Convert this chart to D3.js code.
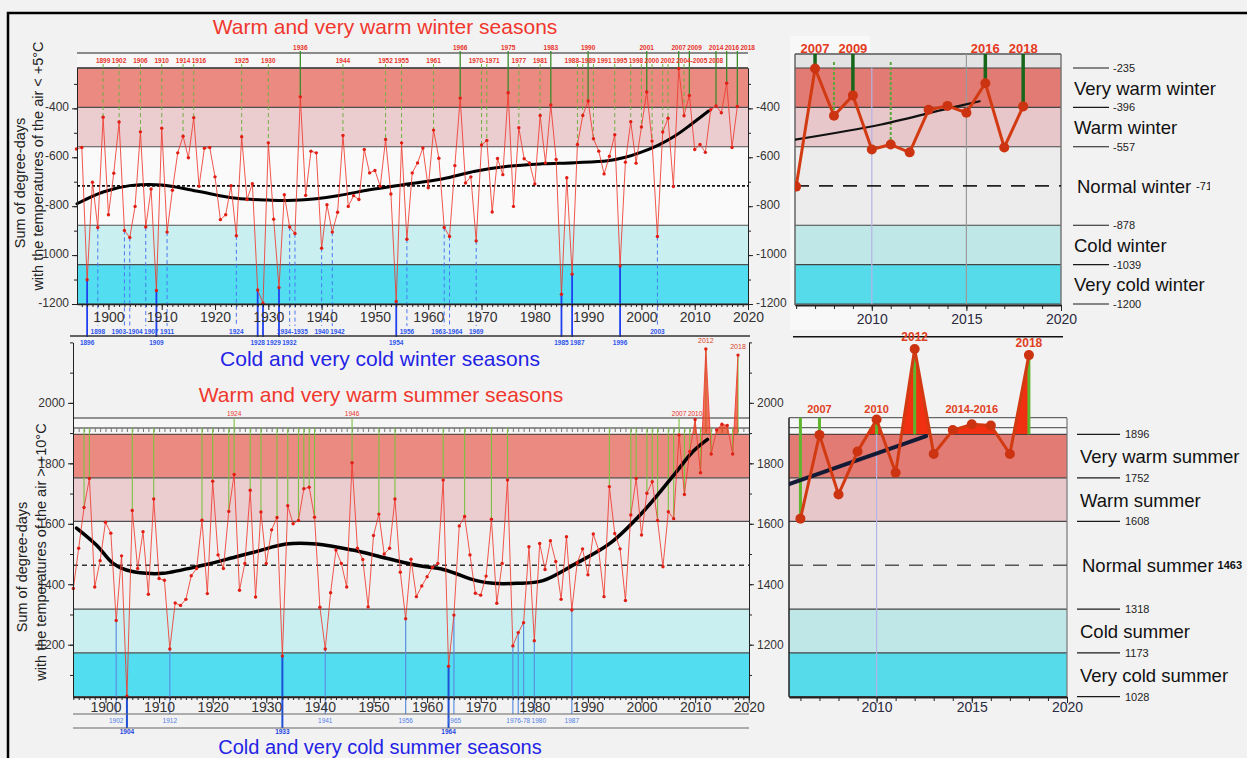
<!DOCTYPE html>
<html>
<head>
<meta charset="utf-8">
<script src="https://cdn.jsdelivr.net/npm/d3@7/dist/d3.min.js"></script>
<style>
  html, body { margin: 0; padding: 0; background: #f3f2f2; }
  svg { display: block; font-family: "Liberation Sans", Arial, sans-serif; }
</style>
</head>
<body>
<svg id="chart" width="1247" height="758"></svg>
<script>
// Seasonal sums of degree-days, one value per year starting in 1894
const firstYear = 1894;

// Winter: sum of degree-days with air temperature < +5°C
const winterValues = [
  -566, -560, -1101, -702, -887, -436, -835, -665, -456, -899,
  -928, -801, -496, -885, -730, -1145, -481, -906, -735, -582,
  -514, -602, -438, -719, -563, -560, -680, -855, -835, -716,
  -921, -516, -773, -708, -1143, -1197, -541, -853, -1133, -753,
  -885, -912, -353, -756, -575, -582, -972, -794, -906, -825,
  -511, -801, -757, -773, -568, -664, -654, -719, -527, -750,
  -1190, -541, -935, -664, -623, -562, -725, -489, -604, -887,
  -924, -634, -358, -705, -680, -942, -550, -531, -824, -605,
  -671, -336, -801, -479, -606, -623, -709, -429, -623, -386,
  -609, -1160, -684, -1078, -548, -429, -370, -524, -575, -668,
  -596, -508, -1045, -620, -455, -624, -476, -333, -534, -924,
  -497, -440, -720, -237, -430, -347, -568, -548, -580, -406,
  -390, -418, -297, -560, -392
];

// Summer: sum of degree-days with air temperature > +10°C
const summerValues = [
  1386, 1519, 1654, 1750, 1391, 1478, 1605, 1569, 1280, 1494,
  1030, 1644, 1452, 1574, 1367, 1682, 1419, 1413, 1186, 1338,
  1330, 1350, 1428, 1452, 1612, 1369, 1741, 1497, 1452, 1641,
  1763, 1380, 1469, 1711, 1358, 1639, 1469, 1580, 1621, 1163,
  1660, 1600, 1611, 1716, 1721, 1622, 1324, 1186, 1372, 1513,
  1469, 1391, 1802, 1519, 1482, 1325, 1561, 1632, 1500, 1519,
  1682, 1440, 1286, 1483, 1359, 1394, 1425, 1456, 1469, 1745,
  1129, 1298, 1593, 1624, 1497, 1370, 1364, 1427, 1615, 1337,
  1469, 1745, 1196, 1240, 1273, 1524, 1213, 1535, 1449, 1544,
  1475, 1350, 1557, 1315, 1471, 1517, 1431, 1566, 1513, 1359,
  1723, 1568, 1517, 1346, 1629, 1750, 1563, 1701, 1739, 1611,
  1458, 1640, 1617, 1894, 1697, 1839, 1945, 1769, 2178, 1831,
  1910, 1929, 1925, 1831, 2158
];

// Class boundaries (top to bottom) and normals
const winterLevels = [-235, -396, -557, -878, -1039, -1200];
const summerLevels = [1896, 1752, 1608, 1318, 1173, 1028];
const winterNormal = -717;
const summerNormal = 1463;
const winterClasses = ["Very warm winter", "Warm winter", "Normal winter", "Cold winter", "Very cold winter"];
const summerClasses = ["Very warm summer", "Warm summer", "Normal summer", "Cold summer", "Very cold summer"];

// Tick labels
const decadeTicks = [1900, 1910, 1920, 1930, 1940, 1950, 1960, 1970, 1980, 1990, 2000, 2010, 2020];
const insetTicks = [2010, 2015, 2020];
const winterAxisTicks = [-400, -600, -800, -1000, -1200];
const summerAxisTicks = [1200, 1400, 1600, 1800, 2000];

// Highlighted winter seasons
const winterVeryWarmLabels = ["1936", "1966", "1975", "1983", "1990", "2001", "2007", "2009", "2014", "2016", "2018"];
const winterWarmLabels = ["1899", "1902", "1906", "1910", "1914", "1916", "1925", "1930", "1944", "1952", "1955",
  "1961", "1970-1971", "1977", "1981", "1988-1989", "1991", "1995", "1998", "2000", "2002", "2004-2005", "2008"];
const winterColdLabels = ["1898", "1903-1904", "1907", "1911", "1924", "1934-1935", "1940", "1942", "1956",
  "1963-1964", "1969", "2003"];
const winterVeryColdLabels = ["1896", "1909", "1928", "1929", "1932", "1954", "1985", "1987", "1996"];

// Highlighted summer seasons
const summerTopLabels = ["1924", "1946", "2007", "2010"];
const summerPeakLabels = ["2012", "2018"];
const summerColdLabels = ["1902", "1912", "1941", "1956", "1965", "1976-78", "1980", "1987"];
const summerVeryColdLabels = ["1904", "1933", "1964"];

// Recent-years panels
const winterInsetSolid = [2007, 2009, 2016, 2018];
const winterInsetDashed = [2008, 2011];
const summerInsetMarks = [2006, 2007, 2010, 2012, 2018];
const summerInsetRowLabels = ["2007", "2010", "2014-2016"];
const summerInsetPeakLabels = ["2012", "2018"];

// Smoothed trends [year, degree-days]
const winterTrend = [[1894.1, -790], [1899, -742], [1904, -716], [1910, -713], [1916.5, -738], [1924, -768],
  [1930, -775], [1936, -775], [1943, -757], [1949, -733], [1955, -713], [1962.6, -689], [1968.8, -657],
  [1975, -637], [1981.3, -627], [1987.5, -622], [1993.7, -614], [1997, -600], [2000, -579], [2003, -552],
  [2006.2, -514], [2009.3, -466], [2012.6, -411]];
const summerTrend = [[1894.6, 1586], [1898.3, 1530], [1901.4, 1469], [1903.9, 1447], [1907.6, 1436],
  [1910.7, 1436], [1918.2, 1463], [1924.4, 1491], [1928.1, 1508], [1933.7, 1533], [1939.3, 1533],
  [1946.1, 1513], [1952.4, 1486], [1958.6, 1461], [1963, 1449], [1969.2, 1412], [1972.3, 1403],
  [1976.7, 1403], [1981.6, 1412], [1987.8, 1469], [1994.1, 1535], [2000.3, 1640], [2006.5, 1772],
  [2009.6, 1839], [2012.3, 1879]];
const winterInsetTrend = [[2005.94, -528], [2010.5, -466], [2014, -401], [2015.7, -371]];
const summerInsetTrend = [[2005.4, 1731], [2012.6, 1890]];

// ---------------------------------------------------------------------------
const svg = d3.select("#chart");
const years = winterValues.map((_, i) => firstYear + i);
const valueAt = (arr, yr) => arr[yr - firstYear];
const FONT = "Liberation Sans, Arial, sans-serif";
const plain = d => String(d);

const styles = {
  mainFillW: ["#ea8a80", "#ebcdd0", "#fafafa", "#c9eff1", "#52def0"],
  mainFillS: ["#ea8a80", "#ebcdd0", "#f2f1f1", "#c9eff1", "#52def0"],
  insetFill: ["#e27b74", "#e8c7ca", "#ececec", "#c0e7e7", "#56dbeb"],
  red: "#ee3a2e", redDot: "#e01e14", insetRed: "#d23a12",
  warmText: "#e8342a", coldText: "#2d55ee"
};

function yearsOf(label) {
  const [a, b] = label.split("-");
  const start = +a;
  if (b === undefined) return [start];
  const end = b.length === 2 ? Math.floor(start / 100) * 100 + +b : +b;
  return d3.range(start, end + 1);
}
const centerYear = label => d3.mean(yearsOf(label));

// a row of small year labels, nudged apart using their measured widths
function yearRow(g, labels, xScale, y, color, size = 6.5, weight = "bold") {
  const items = labels.map(l => ({ l, x: xScale(centerYear(l)) })).sort((a, b) => a.x - b.x);
  const sel = g.selectAll(null).data(items).join("text")
    .attr("x", d => d.x).attr("y", y)
    .attr("text-anchor", "middle").attr("dominant-baseline", "central")
    .attr("font-size", size).attr("font-weight", weight).attr("fill", color)
    .text(d => d.l);
  sel.each(function (d) { d.w = this.getBBox().width; });
  let right = -Infinity;
  items.forEach(d => {
    if (d.x - d.w / 2 < right) d.x = right + d.w / 2;
    right = d.x + d.w / 2 + 1;
  });
  sel.attr("x", d => d.x);
}

function bands(g, [x0, x1], y, levels, fills, lineColor = "#505050") {
  g.selectAll(null).data(fills).join("rect")
    .attr("x", x0).attr("width", x1 - x0)
    .attr("y", (d, i) => y(levels[i]))
    .attr("height", (d, i) => y(levels[i + 1]) - y(levels[i]))
    .attr("fill", d => d);
  g.selectAll(null).data(levels).join("line")
    .attr("x1", x0).attr("x2", x1)
    .attr("y1", d => y(d)).attr("y2", d => y(d))
    .attr("stroke", lineColor).attr("stroke-width", 1.2);
}

function vline(g, x, y1, y2, color, width, dash) {
  const l = g.append("line").attr("x1", x).attr("x2", x).attr("y1", y1).attr("y2", y2)
    .attr("stroke", color).attr("stroke-width", width);
  if (dash) l.attr("stroke-dasharray", dash);
  return l;
}

function hline(g, x1, x2, y, color, width, dash) {
  const l = g.append("line").attr("x1", x1).attr("x2", x2).attr("y1", y).attr("y2", y)
    .attr("stroke", color).attr("stroke-width", width);
  if (dash) l.attr("stroke-dasharray", dash);
  return l;
}

function styleAxis(g, size, color = "#333") {
  g.attr("font-size", size).attr("font-family", FONT);
  g.selectAll("text").attr("fill", color);
  g.selectAll("path, line").attr("stroke", "#222");
}

function seriesLine(g, xs, ys, yrs, arr, color, width, dotR, dotColor, opacity = 1) {
  const pts = yrs.map(yr => [yr, valueAt(arr, yr)]);
  g.append("path").datum(pts)
    .attr("d", d3.line().x(d => xs(d[0])).y(d => ys(d[1])))
    .attr("fill", "none").attr("stroke", color).attr("stroke-width", width)
    .attr("stroke-opacity", opacity).attr("stroke-linejoin", "round");
  g.selectAll(null).data(pts).join("circle")
    .attr("cx", d => xs(d[0])).attr("cy", d => ys(d[1])).attr("r", dotR)
    .attr("fill", dotColor);
}

function trendLine(g, xs, ys, knots, color, width) {
  g.append("path").datum(knots)
    .attr("d", d3.line().x(d => xs(d[0])).y(d => ys(d[1])).curve(d3.curveCatmullRom))
    .attr("fill", "none").attr("stroke", color).attr("stroke-width", width)
    .attr("stroke-linecap", "round");
}

const defs = svg.append("defs");

// ============================ WINTER, 1894–2018 ============================
const xW = d3.scaleLinear().domain([1894.1, 2020]).range([77, 748]);
const yW = d3.scaleLinear().domain([-1200, -235]).range([304, 68]);
const gW = svg.append("g");

gW.append("rect").attr("x", 77).attr("y", 53).attr("width", 671).attr("height", 15).attr("fill", "#f7f7f7");
bands(gW, xW.range(), yW, winterLevels, styles.mainFillW);
hline(gW, 77, 748, 53, "#8a8a8a", 2);
hline(gW, 77, 748, yW(winterLevels[0]), "#444", 1.6);
hline(gW, 77, 748, yW(winterNormal), "#111", 1.6, "3,2");

// connectors from highlighted seasons to their labels
winterVeryWarmLabels.forEach(l => yearsOf(l).forEach(yr =>
  vline(gW, xW(yr), 51, yW(valueAt(winterValues, yr)), "#3d8b2a", 1.3)));
winterWarmLabels.forEach(l => yearsOf(l).forEach(yr =>
  vline(gW, xW(yr), 64, yW(valueAt(winterValues, yr)), "#72b043", 1, "4,3")));
winterColdLabels.forEach(l => yearsOf(l).forEach(yr =>
  vline(gW, xW(yr), yW(valueAt(winterValues, yr)), 326, "#4a78f2", 1, "4,3")));
winterVeryColdLabels.forEach(l => yearsOf(l).forEach(yr =>
  vline(gW, xW(yr), yW(valueAt(winterValues, yr)), 337, "#1f3ff0", 1.8)));

trendLine(gW, xW, yW, winterTrend, "#000", 3);
seriesLine(gW, xW, yW, years, winterValues, styles.red, 1, 1.7, styles.redDot, 0.85);

// axes
gW.append("g").attr("transform", "translate(0,304)")
  .call(d3.axisBottom(xW).tickValues(d3.range(1895, 2021)).tickSize(3).tickFormat(() => "").tickSizeOuter(0))
  .call(g => styleAxis(g, 14));
gW.append("g").attr("transform", "translate(0,304)")
  .call(d3.axisBottom(xW).tickValues(decadeTicks).tickSize(6).tickFormat(plain).tickSizeOuter(0))
  .call(g => styleAxis(g, 14))
  .call(g => g.select(".domain").attr("stroke-width", 1.6))
  .call(g => g.selectAll("text").attr("dy", "0.62em"));
[[77, d3.axisLeft], [748, d3.axisRight]].forEach(([x, ax]) => {
  gW.append("g").attr("transform", `translate(${x},0)`)
    .call(ax(yW).tickValues(d3.range(-300, -1201, -100)).tickSize(3).tickFormat(() => "").tickSizeOuter(0))
    .call(g => styleAxis(g, 12));
  gW.append("g").attr("transform", `translate(${x},0)`)
    .call(ax(yW).tickValues(winterAxisTicks).tickSize(5).tickFormat(plain).tickSizeOuter(0))
    .call(g => styleAxis(g, 12))
    .call(g => g.selectAll("text").attr("dy", "0.2em"));
});

hline(gW, 70, 750, 336, "#333", 1.5);
yearRow(gW, winterVeryWarmLabels, xW, 47, styles.warmText);
yearRow(gW, winterWarmLabels, xW, 60, styles.warmText);
yearRow(gW, winterColdLabels, xW, 331.5, styles.coldText);
yearRow(gW, winterVeryColdLabels, xW, 342.5, styles.coldText);

gW.append("text").attr("x", 385).attr("y", 34).attr("text-anchor", "middle")
  .attr("font-size", 21).attr("fill", "#f0372d").text("Warm and very warm winter seasons");
gW.append("text").attr("x", 380).attr("y", 366).attr("text-anchor", "middle")
  .attr("font-size", 21).attr("fill", "#2323e6").text("Cold and very cold winter seasons");

gW.append("text").attr("transform", "translate(25,183) rotate(-90)").attr("text-anchor", "middle")
  .attr("font-size", 14.5).attr("fill", "#222").text("Sum of degree-days");
gW.append("text").attr("transform", "translate(43,166) rotate(-90)").attr("text-anchor", "middle")
  .attr("font-size", 14.5).attr("fill", "#222").text("with the temperatures of the air < +5°C");

// ============================ SUMMER, 1894–2018 ============================
const xS = d3.scaleLinear().domain([1893.94, 2020.05]).range([73, 749]);
const yS = d3.scaleLinear().domain([1028, 1896]).range([696.7, 434.3]);
const yAxisS = d3.scaleLinear().domain([1028, 2200]).range([yS(1028), yS(2200)]);
const gS = svg.append("g");

gS.append("rect").attr("x", 73).attr("y", 418).attr("width", 676).attr("height", 16).attr("fill", "#f6f6f6");
bands(gS, xS.range(), yS, summerLevels, styles.mainFillS);
hline(gS, 73, 749, 418, "#6f6f6f", 1.5);
hline(gS, 73, 749, 428, "#6f6f6f", 1.5);
gS.append("g").attr("transform", "translate(0,428)")
  .call(d3.axisBottom(xS).tickValues(d3.range(1894, 2021)).tickSize(4).tickFormat(() => "").tickSizeOuter(0))
  .call(g => { g.select(".domain").remove(); g.selectAll("line").attr("stroke", "#777"); });
hline(gS, 73, 749, yS(summerNormal), "#333", 1.5, "5,4");

// warm seasons: green stems; cold seasons: blue stems down to labels
years.forEach(yr => {
  const v = valueAt(summerValues, yr);
  if (v > summerLevels[2]) {
    const top = v > summerLevels[0] ? yS(summerLevels[0])
      : (summerTopLabels.includes(String(yr)) ? 418 : 428);
    vline(gS, xS(yr), top, yS(v), "#7cc142", 1.1);
  }
});
summerColdLabels.forEach(l => yearsOf(l).forEach(yr =>
  vline(gS, xS(yr), yS(valueAt(summerValues, yr)), 714, "#5b8fe0", 1.2)));
summerVeryColdLabels.forEach(l => yearsOf(l).forEach(yr =>
  vline(gS, xS(yr), yS(valueAt(summerValues, yr)), 728, "#1e4fd6", 2)));

// fill where the season exceeds the very-warm boundary
defs.append("clipPath").attr("id", "aboveS").append("rect")
  .attr("x", 60).attr("y", 300).attr("width", 700).attr("height", yS(summerLevels[0]) - 300);
gS.append("path").datum(years)
  .attr("clip-path", "url(#aboveS)")
  .attr("d", d3.area().x(yr => xS(yr)).y0(yS(summerLevels[0])).y1(yr => yS(valueAt(summerValues, yr))))
  .attr("fill", "#f0391c").attr("fill-opacity", 0.7);

trendLine(gS, xS, yS, summerTrend, "#000", 3.5);
seriesLine(gS, xS, yS, years, summerValues, styles.red, 1, 1.7, styles.redDot, 0.85);

gS.append("g").attr("transform", "translate(0,697)")
  .call(d3.axisBottom(xS).tickValues(d3.range(1894, 2021)).tickSize(3).tickFormat(() => "").tickSizeOuter(0))
  .call(g => styleAxis(g, 14));
gS.append("g").attr("transform", "translate(0,697)")
  .call(d3.axisBottom(xS).tickValues(decadeTicks).tickSize(6).tickFormat(plain).tickSizeOuter(0))
  .call(g => styleAxis(g, 14))
  .call(g => g.select(".domain").attr("stroke-width", 1.6))
  .call(g => g.selectAll("text").attr("dy", "0.45em"));
[[73, d3.axisLeft], [749, d3.axisRight]].forEach(([x, ax]) => {
  gS.append("g").attr("transform", `translate(${x},0)`)
    .call(ax(yAxisS).tickValues(d3.range(1100, 2201, 100)).tickSize(3).tickFormat(() => "").tickSizeOuter(0))
    .call(g => styleAxis(g, 12));
  gS.append("g").attr("transform", `translate(${x},0)`)
    .call(ax(yAxisS).tickValues(summerAxisTicks).tickSize(5).tickFormat(plain).tickSizeOuter(0))
    .call(g => styleAxis(g, 12));
});

hline(gS, 73, 749, 714, "#666", 1.2);
hline(gS, 73, 749, 728, "#666", 1.2);
yearRow(gS, summerTopLabels, xS, 413, styles.warmText, 6.5, "normal");
summerPeakLabels.forEach(l => {
  const yr = +l;
  gS.append("text").attr("x", xS(yr)).attr("y", yS(valueAt(summerValues, yr)) - 6)
    .attr("text-anchor", "middle").attr("font-size", 7).attr("fill", "#d9462a").text(l);
});
yearRow(gS, summerColdLabels, xS, 720.5, "#4f80e6", 6.5, "normal");
yearRow(gS, summerVeryColdLabels, xS, 731.5, "#1f45e0");

gS.append("text").attr("x", 381).attr("y", 402).attr("text-anchor", "middle")
  .attr("font-size", 21).attr("fill", "#f0372d").text("Warm and very warm summer seasons");
gS.append("text").attr("x", 380).attr("y", 753.5).attr("text-anchor", "middle")
  .attr("font-size", 20).attr("fill", "#2323e6").text("Cold and very cold summer seasons");

gS.append("text").attr("transform", "translate(27,567) rotate(-90)").attr("text-anchor", "middle")
  .attr("font-size", 14.5).attr("fill", "#222").text("Sum of degree-days");
gS.append("text").attr("transform", "translate(46,552) rotate(-90)").attr("text-anchor", "middle")
  .attr("font-size", 14.5).attr("fill", "#222").text("with the temperatures of the air > +10°C");

// ============================ RECENT WINTERS ============================
const xWI = d3.scaleLinear().domain([2005.94, 2020]).range([795, 1061]);
const gWI = svg.append("g");
const insetYears = d3.range(2006, 2019);

gWI.append("rect").attr("x", 790).attr("y", 36).attr("width", 80).attr("height", 294).attr("fill", "#f8f8f8");
gWI.append("rect").attr("x", 795).attr("y", 54).attr("width", 266).attr("height", 14).attr("fill", "#e3e3e3");
bands(gWI, xWI.range(), yW, winterLevels, styles.insetFill, "#444");
hline(gWI, 795, 1061, 54, "#7a7a7a", 2);
vline(gWI, xWI(2010), 68, 305, "#b4b4e6", 1.2);
vline(gWI, xWI(2015), 54, 305, "#9a9a9a", 1.2);
vline(gWI, 795, 54, 305, "#666", 1.5);
vline(gWI, 1061, 54, 305, "#777", 1.5);
hline(gWI, 795, 1061, yW(winterNormal), "#222", 1.6, "14,10");

winterInsetSolid.forEach(yr => vline(gWI, xWI(yr), 54, yW(valueAt(winterValues, yr)), "#17661a", 3.5));
winterInsetDashed.forEach(yr => vline(gWI, xWI(yr), 62, yW(valueAt(winterValues, yr)), "#5aa83a", 2, "3,2"));

defs.append("clipPath").attr("id", "clipWI").append("rect")
  .attr("x", 795).attr("y", 40).attr("width", 266).attr("height", 270);
const gWIc = gWI.append("g").attr("clip-path", "url(#clipWI)");
trendLine(gWIc, xWI, yW, winterInsetTrend, "#111", 2.2);
seriesLine(gWIc, xWI, yW, insetYears, winterValues, styles.insetRed, 3, 5, "#cc3311");

winterInsetSolid.forEach(yr => gWI.append("text").attr("x", xWI(yr)).attr("y", 53)
  .attr("text-anchor", "middle").attr("font-size", 13).attr("font-weight", "bold")
  .attr("fill", "#e43a22").text(yr));

gWI.append("g").attr("transform", "translate(0,305)")
  .call(d3.axisBottom(xWI).tickValues(d3.range(2006, 2021)).tickSize(4).tickFormat(() => "").tickSizeOuter(0))
  .call(g => styleAxis(g, 14));
gWI.append("g").attr("transform", "translate(0,305)")
  .call(d3.axisBottom(xWI).tickValues(insetTicks).tickSize(6).tickFormat(plain).tickSizeOuter(0))
  .call(g => styleAxis(g, 14, "#2a2a40"))
  .call(g => g.select(".domain").attr("stroke-width", 2));

// class scale on the right
winterLevels.forEach(lv => {
  hline(gWI, 1073, 1109, yW(lv), "#1a1a1a", 1.2);
  gWI.append("text").attr("x", 1113).attr("y", yW(lv)).attr("dominant-baseline", "central")
    .attr("font-size", 11).attr("fill", "#222").text(lv);
});
defs.append("clipPath").attr("id", "clipWL").append("rect")
  .attr("x", 1060).attr("y", 60).attr("width", 150).attr("height", 260);
winterClasses.forEach((name, i) => {
  const mid = (yW(winterLevels[i]) + yW(winterLevels[i + 1])) / 2;
  const t = gWI.append("text").attr("x", i === 2 ? 1077 : 1074).attr("y", mid)
    .attr("dominant-baseline", "central").attr("font-size", 18.5).attr("fill", "#111");
  t.append("tspan").text(name);
  if (i === 2) {
    t.attr("clip-path", "url(#clipWL)");
    t.append("tspan").attr("dx", 5).attr("font-size", 11).text(winterNormal);
  }
});

// ============================ RECENT SUMMERS ============================
const xSI = d3.scaleLinear().domain([2005.4, 2020]).range([789, 1067]);
const gSI = svg.append("g");

hline(gSI, 793, 1063, 336.7, "#111", 1.5);
gSI.append("rect").attr("x", 789).attr("y", 417.7).attr("width", 278).attr("height", 16.6).attr("fill", "#f6f6f6");
bands(gSI, xSI.range(), yS, summerLevels, styles.insetFill, "#444");
hline(gSI, 789, 1067, 417.7, "#666", 1.2);
hline(gSI, 789, 1067, 427.7, "#666", 1.2);
vline(gSI, xSI(2010), 417.7, 696.7, "#b4b4e6", 1.2);
vline(gSI, 789, 417.7, 696.7, "#222", 1.5);
vline(gSI, 1067, 417.7, 696.7, "#777", 1.2);
hline(gSI, 789, 1067, yS(summerNormal), "#555", 1.5, "14,10");

defs.append("clipPath").attr("id", "aboveSI").append("rect")
  .attr("x", 789).attr("y", 330).attr("width", 278).attr("height", yS(summerLevels[0]) - 330);
gSI.append("path").datum(insetYears)
  .attr("clip-path", "url(#aboveSI)")
  .attr("d", d3.area().x(yr => xSI(yr)).y0(yS(summerLevels[0])).y1(yr => yS(valueAt(summerValues, yr))))
  .attr("fill", "#f03010");

summerInsetMarks.forEach(yr => {
  const v = valueAt(summerValues, yr);
  const top = v > summerLevels[0] ? yS(summerLevels[0]) : 417.7;
  vline(gSI, xSI(yr), top, yS(v), "#5fb52e", 3);
});

defs.append("clipPath").attr("id", "clipSI").append("rect")
  .attr("x", 789).attr("y", 330).attr("width", 278).attr("height", 370);
const gSIc = gSI.append("g").attr("clip-path", "url(#clipSI)");
trendLine(gSIc, xSI, yS, summerInsetTrend, "#121a35", 4);
seriesLine(gSIc, xSI, yS, insetYears, summerValues, styles.insetRed, 3, 5, "#cc3311");

yearRow(gSI, summerInsetRowLabels, xSI, 409, "#e0401e", 11);
summerInsetPeakLabels.forEach(l => {
  const yr = +l;
  gSI.append("text").attr("x", xSI(yr)).attr("y", yS(valueAt(summerValues, yr)) - 8)
    .attr("text-anchor", "middle").attr("font-size", 12).attr("font-weight", "bold")
    .attr("fill", "#e0401e").text(l);
});

gSI.append("g").attr("transform", "translate(0,697)")
  .call(d3.axisBottom(xSI).tickValues(d3.range(2006, 2021)).tickSize(4).tickFormat(() => "").tickSizeOuter(0))
  .call(g => styleAxis(g, 14));
gSI.append("g").attr("transform", "translate(0,697)")
  .call(d3.axisBottom(xSI).tickValues(insetTicks).tickSize(6).tickFormat(plain).tickSizeOuter(0))
  .call(g => styleAxis(g, 14, "#2a2a40"))
  .call(g => g.select(".domain").attr("stroke-width", 2))
  .call(g => g.selectAll("text").attr("dy", "0.4em"));

summerLevels.forEach(lv => {
  hline(gSI, 1077, 1120, yS(lv), "#1a1a1a", 1.2);
  gSI.append("text").attr("x", 1125).attr("y", yS(lv)).attr("dominant-baseline", "central")
    .attr("font-size", 11).attr("fill", "#222").text(lv);
});
summerClasses.forEach((name, i) => {
  const mid = (yS(summerLevels[i]) + yS(summerLevels[i + 1])) / 2;
  const t = gSI.append("text").attr("x", i === 2 ? 1082 : 1080).attr("y", mid)
    .attr("dominant-baseline", "central").attr("font-size", 18.5).attr("fill", "#111");
  t.append("tspan").text(name);
  if (i === 2) t.append("tspan").attr("dx", 4).attr("font-size", 11).attr("font-weight", "bold").text(summerNormal);
});

// outer frame
svg.append("path").attr("d", "M8,758V13H1247").attr("fill", "none").attr("stroke", "#000").attr("stroke-width", 2.5);
</script>
</body>
</html>
